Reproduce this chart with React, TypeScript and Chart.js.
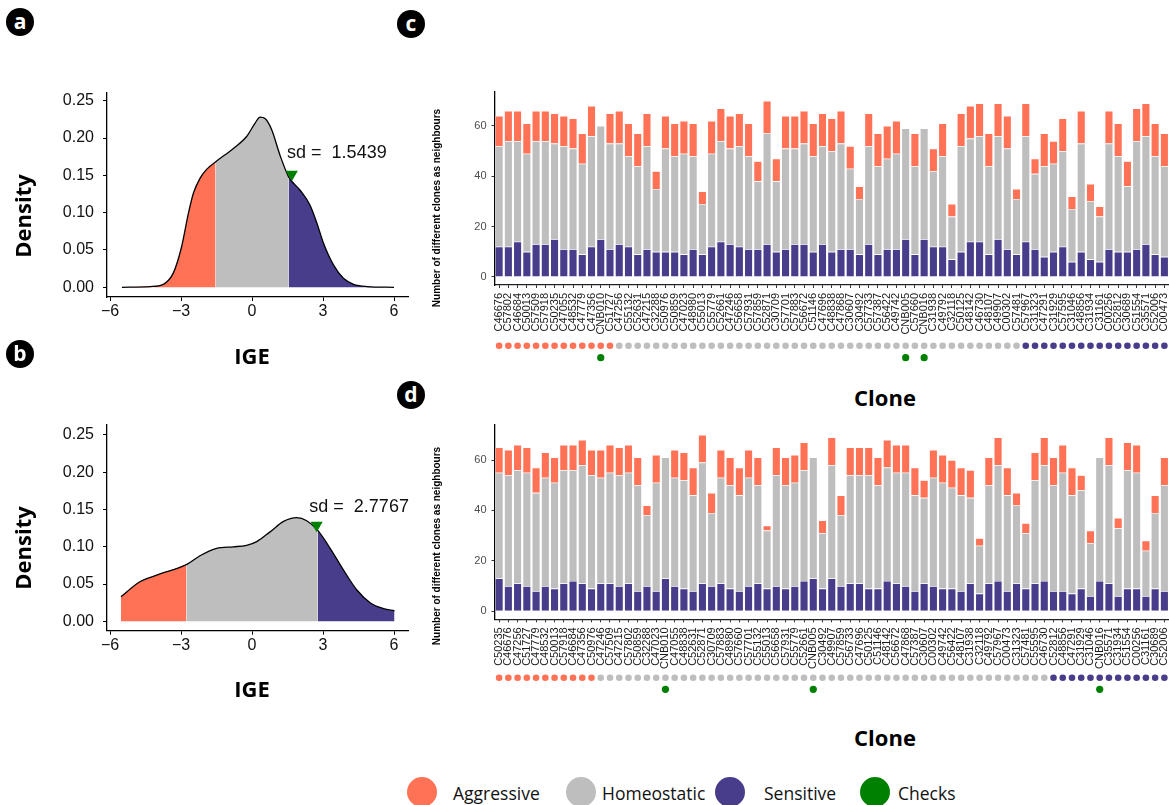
import React, { useEffect, useRef } from 'react';
import { Chart, registerables } from 'chart.js';
Chart.register(...registerables);

const AGG = '#FF7256';
const HOM = '#BEBEBE';
const SEN = '#483D8B';
const CHK = '#008000';

// ---------- Panel a : density of IGE ----------
const igeA = [-5.5, -4.3, -3.75, -3.33, -2.98, -2.69, -2.48, -2.2, -1.92, -1.5439, -0.79, -0.23, 0.13, 0.34, 0.55, 0.83, 1.18, 1.5439, 2.03, 2.45, 2.74, 3.02, 3.44, 3.86, 4.29, 4.85, 6.0];
const densA = [0, 0.001, 0.004, 0.019, 0.054, 0.099, 0.126, 0.146, 0.158, 0.168, 0.186, 0.202, 0.220, 0.228, 0.226, 0.211, 0.177, 0.148, 0.130, 0.110, 0.086, 0.059, 0.030, 0.012, 0.004, 0.001, 0];
const sdA = 1.5439;
const sdTextA = 'sd =  1.5439';
const markerA = { x: 1.68, y: 0.1515 };
const labelPosA = { x: 1.48, y: 0.180 };

// ---------- Panel b ----------
const igeB = [-5.54, -4.74, -4.03, -2.7767, -2.2, -1.5, -0.79, -0.23, 0.2, 0.76, 1.33, 1.89, 2.31, 2.7767, 3.3, 3.86, 4.43, 4.99, 5.56, 6.02];
const densB = [0.033, 0.053, 0.062, 0.076, 0.088, 0.098, 0.100, 0.102, 0.107, 0.120, 0.134, 0.139, 0.135, 0.122, 0.098, 0.069, 0.042, 0.025, 0.017, 0.014];
const sdB = 2.7767;
const sdTextB = 'sd =  2.7767';
const markerB = { x: 2.73, y: 0.129 };
const labelPosB = { x: 2.42, y: 0.154 };

const densityXTicks = [-6, -3, 0, 3, 6];
const densityXTickLabels = ['\u22126', '\u22123', '0', '3', '6'];
const densityYTicks = [0, 0.05, 0.1, 0.15, 0.2, 0.25];
const densityYTickLabels = ['0.00', '0.05', '0.10', '0.15', '0.20', '0.25'];

// ---------- Panel c ----------
const clonesC = ['C46676','C57802','C46684','C50013','C57509','C57918','C50235','C47055','C48532','C47779','C47356','CNB010','C51727','C47256','C55132','C52631','C47215','C32288','C50976','C50859','C47023','C48980','C55013','C55779','C52661','C47246','C56658','C57931','C57859','C52871','C30709','C57701','C57883','C56672','C51146','C47696','C48838','C47868','C30607','C30492','C57733','C57387','C56422','C49742','CNB005','C57660','CNB016','C31938','C49792','C32118','C50125','C48142','C46730','C48107','C49907','C00302','C57481','C57967','C31323','C47291','C31929','C57595','C31046','C48856','C31934','C31161','C00256','C52812','C30689','C51554','C35571','C52006','C00473'];
const groupsC = 'AAAAAAAAAAAAAHHHHHHHHHHHHHHHHHHHHHHHHHHHHHHHHHHHHHHHHHHHHSSSSSSSSSSSSSSS';
const sensitiveC = [12,12,14,10,13,13,15,11,11,9, 12,15,11,13,12,9,11,10,10,10, 9,11,9,12,14,13,12,11,11,13, 10,11,13,13,10,13,10,11,11,9, 13,9,11,11,15,9,15,12,12,7, 10,14,14,9,15,11,9,14,11,8, 10,12,6,10,7,6,11,10,10,11, 13,9,8];
const homeostaticC = [40,42,40,39,41,41,38,41,40,36, 44,45,42,40,36,35,41,25,41,38, 40,37,20,37,40,38,40,37,27,44, 28,40,38,40,38,39,40,42,32,22, 39,35,36,38,44,35,44,30,36,17, 42,41,42,35,41,40,22,42,30,36, 35,38,21,43,23,18,42,38,26,43, 43,39,36];
const aggressiveC = [12,12,12,12,12,12,12,12,12,12, 12,0,12,13,13,13,13,7,13,13, 13,13,5,13,13,13,13,13,8,13, 9,13,13,13,13,13,13,13,9,5, 13,13,13,13,0,13,0,9,13,5, 13,13,13,13,13,13,4,13,6,13, 9,13,5,13,7,4,13,13,10,13, 13,13,13];

// ---------- Panel d ----------
const clonesD = ['C50235','C46676','C47256','C51727','C47779','C48532','C50013','C57918','C46684','C47356','C50976','C47246','C57509','C47215','C57802','C50859','C32288','C47023','CNB010','C47055','C48838','C52631','C52871','C30709','C57883','C48980','C57660','C57701','C55132','C55013','C56658','C57931','C55779','C52661','CNB005','C30492','C49907','C57859','C56733','C47696','C50125','C51146','C48142','C56672','C47868','C57387','C30607','C00302','C49742','C56422','C48107','C31938','C32118','C49792','C57967','C00473','C31323','C57481','C55595','C46730','C52812','C48856','C47291','C31929','C31046','CNB016','C35571','C31934','C51554','C00256','C31161','C30689','C52006'];
const groupsD = 'AAAAAAAAAAAHHHHHHHHHHHHHHHHHHHHHHHHHHHHHHHHHHHHHHHHHHHHHHHHHSSSSSSSSSSSS';
const sensitiveD = [13,10,11,10,8,10,9,11,12,11, 9,11,11,10,11,8,10,8,13,10, 9,8,11,10,11,9,8,10,11,9, 10,9,10,12,13,9,13,10,11,11, 9,9,12,11,10,8,11,10,9,9, 8,11,7,11,12,8,11,9,11,12, 8,8,7,9,6,12,11,6,9,9, 6,9,8];
const homeostaticD = [42,44,45,45,39,43,42,45,44,47, 45,42,44,44,44,42,28,43,48,43, 43,38,48,29,42,41,38,43,39,23, 44,41,41,44,48,22,45,28,43,43, 45,41,45,44,45,38,34,43,42,40, 38,34,19,39,46,38,31,22,41,46, 42,47,39,39,21,49,47,27,47,46, 18,30,42];
const aggressiveD = [10,10,10,10,10,10,10,10,10,10, 10,11,11,11,11,11,4,11,0,11, 11,11,11,8,11,11,11,11,11,2, 11,11,11,11,0,5,11,8,11,11, 11,11,11,11,11,11,7,11,11,11, 11,11,3,11,11,11,5,4,11,11, 11,11,11,6,5,0,11,4,11,11, 4,7,11];

const checkClones = ['CNB010', 'CNB005', 'CNB016'];
const countYTicks = [0, 20, 40, 60];
const countYTickLabels = ['0', '20', '40', '60'];

const groupColor: Record<string, string> = { A: AGG, H: HOM, S: SEN };
const TICK_FONT = '"Liberation Sans", Arial, sans-serif';

function densityConfig(xs: number[], ys: number[], sd: number, marker: { x: number; y: number }, labelPos: { x: number; y: number }, sdText: string, yMin: number, yMax: number, padTop: number, xHeight: number) {
  const pts = xs.map((x, i) => ({ x, y: ys[i] }));
  const eps = 1e-9;
  const left = pts.filter(p => p.x <= -sd + eps);
  const mid = pts.filter(p => p.x >= -sd - eps && p.x <= sd + eps);
  const right = pts.filter(p => p.x >= sd - eps);
  const area = (data: any[], color: string) => ({
    data, fill: 'origin', backgroundColor: color, borderColor: 'rgba(0,0,0,0)', borderWidth: 0,
    pointRadius: 0, cubicInterpolationMode: 'monotone', order: 2,
  });
  const labelPlugin = {
    id: 'sdLabel',
    afterDatasetsDraw(chart: any) {
      const { ctx, scales } = chart;
      ctx.save();
      ctx.font = '18px ' + TICK_FONT;
      ctx.fillStyle = '#111';
      ctx.textAlign = 'left';
      ctx.textBaseline = 'middle';
      ctx.fillText(sdText, scales.x.getPixelForValue(labelPos.x), scales.y.getPixelForValue(labelPos.y));
      ctx.restore();
    },
  };
  return {
    type: 'line',
    data: {
      datasets: [
        { data: [marker], showLine: false, pointStyle: 'triangle', rotation: 180, pointRadius: 7, pointBackgroundColor: CHK, pointBorderWidth: 0, pointBorderColor: CHK, order: 0 },
        { data: pts, fill: false, borderColor: '#000', borderWidth: 1.3, pointRadius: 0, cubicInterpolationMode: 'monotone', order: 1 },
        area(left, AGG),
        area(mid, HOM),
        area(right, SEN),
      ],
    },
    options: {
      animation: false,
      responsive: false,
      events: [],
      layout: { padding: { top: padTop, right: 12, left: 0, bottom: 0 } },
      plugins: { legend: { display: false }, tooltip: { enabled: false } },
      scales: {
        x: {
          type: 'linear', min: -6.13, max: 6.59,
          afterBuildTicks: (axis: any) => { axis.ticks = densityXTicks.map(v => ({ value: v })); },
          afterFit: (s: any) => { s.height = xHeight; s.paddingLeft = 0; s.paddingRight = 0; },
          grid: { drawOnChartArea: false, drawTicks: true, tickLength: 4, color: '#000', lineWidth: 1 },
          border: { display: true, color: '#000', width: 1.3 },
          ticks: {
            color: '#111', padding: 1, font: { family: TICK_FONT, size: 16 },
            maxRotation: 0,
            callback: (v: number) => densityXTickLabels[densityXTicks.indexOf(v)],
          },
        },
        y: {
          type: 'linear', min: yMin, max: yMax,
          afterBuildTicks: (axis: any) => { axis.ticks = densityYTicks.map(v => ({ value: v })); },
          afterFit: (s: any) => { s.width = 107; s.paddingTop = 0; s.paddingBottom = 0; },
          grid: { drawOnChartArea: false, drawTicks: true, tickLength: 4, color: '#000', lineWidth: 1 },
          border: { display: true, color: '#000', width: 1.3 },
          ticks: {
            color: '#111', padding: 9, font: { family: TICK_FONT, size: 16 },
            callback: (v: number) => densityYTickLabels[densityYTicks.indexOf(v)],
          },
        },
      },
    },
    plugins: [labelPlugin],
  };
}

function barConfig(clones: string[], groups: string, sens: number[], hom: number[], agg: number[], yMax: number, padTop: number, xHeight: number, rowOffset: number, checkOffset: number) {
  const dotPlugin = {
    id: 'groupDots',
    afterDraw(chart: any) {
      const xs = chart.scales.x;
      const ctx = chart.ctx;
      ctx.save();
      clones.forEach((c, i) => {
        const px = xs.getPixelForValue(i);
        ctx.fillStyle = groupColor[groups[i]];
        ctx.beginPath();
        ctx.arc(px, xs.top + rowOffset, 3.3, 0, Math.PI * 2);
        ctx.fill();
        if (checkClones.includes(c)) {
          ctx.fillStyle = CHK;
          ctx.beginPath();
          ctx.arc(px, xs.top + checkOffset, 3.6, 0, Math.PI * 2);
          ctx.fill();
        }
      });
      ctx.restore();
    },
  };
  const ds = (label: string, data: number[], color: string) => ({
    label, data, backgroundColor: color, borderColor: 'rgba(255,255,255,0.75)', borderWidth: 0.6,
    barPercentage: 0.9, categoryPercentage: 1.0,
  });
  return {
    type: 'bar',
    data: {
      labels: clones,
      datasets: [ds('Sensitive', sens, SEN), ds('Homeostatic', hom, HOM), ds('Aggressive', agg, AGG)],
    },
    options: {
      animation: false,
      responsive: false,
      events: [],
      layout: { padding: { top: padTop, right: 0, left: 0, bottom: 0 } },
      plugins: { legend: { display: false }, tooltip: { enabled: false } },
      scales: {
        x: {
          stacked: true,
          afterFit: (s: any) => { s.height = xHeight; s.paddingLeft = 0; s.paddingRight = 0; },
          grid: { offset: false, drawOnChartArea: false, drawTicks: true, tickLength: 3, color: '#333', lineWidth: 1 },
          border: { display: true, color: '#222', width: 1.2 },
          ticks: {
            autoSkip: false, maxRotation: 90, minRotation: 90, padding: 5,
            color: '#1a1a1a', font: { family: TICK_FONT, size: 11 },
          },
        },
        y: {
          stacked: true, min: -3.2, max: yMax,
          afterBuildTicks: (axis: any) => { axis.ticks = countYTicks.map(v => ({ value: v })); },
          afterFit: (s: any) => { s.width = 64.5; s.paddingTop = 0; s.paddingBottom = 0; },
          grid: { drawOnChartArea: false, drawTicks: true, tickLength: 3, color: '#333', lineWidth: 1 },
          border: { display: true, color: '#000', width: 1.3 },
          ticks: {
            color: '#4d4d4d', padding: 5, font: { family: TICK_FONT, size: 11 },
            callback: (v: number) => countYTickLabels[countYTicks.indexOf(v)],
          },
        },
      },
    },
    plugins: [dotPlugin],
  };
}

function ChartCanvas({ make, left, top, width, height }: { make: () => any; left: number; top: number; width: number; height: number }) {
  const ref = useRef<HTMLCanvasElement>(null);
  useEffect(() => {
    const chart = new Chart(ref.current as HTMLCanvasElement, make());
    return () => chart.destroy();
  }, []);
  return <canvas ref={ref} width={width} height={height} style={{ position: 'absolute', left, top, width, height }} />;
}

const TITLE_FONT = '"Open Sans", "DejaVu Sans", sans-serif';

function PanelLetter({ letter, cx, cy }: { letter: string; cx: number; cy: number }) {
  return (
    <div style={{
      position: 'absolute', left: cx - 14, top: cy - 14, width: 28, height: 28, borderRadius: '50%',
      background: '#000', color: '#fff', display: 'flex', alignItems: 'center', justifyContent: 'center',
      fontFamily: TITLE_FONT, fontWeight: 700, fontSize: 21, lineHeight: '28px',
    }}>
      <span style={{ marginTop: -3 }}>{letter}</span>
    </div>
  );
}

function Text({ children, cx, cy, size, bold, rotate, family }: { children: any; cx: number; cy: number; size: number; bold?: boolean; rotate?: boolean; family?: string }) {
  return (
    <div style={{
      position: 'absolute', left: cx, top: cy, whiteSpace: 'nowrap', lineHeight: 1,
      transform: 'translate(-50%, -50%)' + (rotate ? ' rotate(-90deg)' : ''),
      fontFamily: family || TITLE_FONT, fontWeight: bold ? 700 : 400, fontSize: size, color: '#000',
    }}>{children}</div>
  );
}

const legendItems = [
  { label: 'Aggressive', color: AGG, cx: 422, tx: 453 },
  { label: 'Homeostatic', color: HOM, cx: 581, tx: 602 },
  { label: 'Sensitive', color: SEN, cx: 730, tx: 764 },
  { label: 'Checks', color: CHK, cx: 875, tx: 898 },
];

export default function App() {
  useEffect(() => {
    document.body.style.margin = '0';
    document.body.style.overflow = 'hidden';
  }, []);
  return (
    <div style={{ position: 'absolute', left: 0, top: 0, width: 1169, height: 805, background: '#fff', overflow: 'hidden' }}>
      <ChartCanvas left={0} top={80} width={420} height={280}
        make={() => densityConfig(igeA, densA, sdA, markerA, labelPosA, sdTextA, -0.013, 0.2603, 13, 63)} />
      <ChartCanvas left={0} top={410} width={420} height={280}
        make={() => densityConfig(igeB, densB, sdB, markerB, labelPosB, sdTextB, -0.0126, 0.2634, 15, 59.3)} />
      <ChartCanvas left={430} top={80} width={739} height={290}
        make={() => barConfig(clonesC, groupsC, sensitiveC, homeostaticC, aggressiveC, 73.5, 12, 85, 60.7, 72.7)} />
      <ChartCanvas left={430} top={415} width={739} height={290}
        make={() => barConfig(clonesD, groupsD, sensitiveD, homeostaticD, aggressiveD, 73.9, 10, 85.7, 58.4, 70)} />

      <PanelLetter letter="a" cx={20} cy={22} />
      <PanelLetter letter="b" cx={20} cy={354} />
      <PanelLetter letter="c" cx={411} cy={24} />
      <PanelLetter letter="d" cx={411} cy={395} />

      <Text cx={22} cy={216} size={22} bold rotate>Density</Text>
      <Text cx={252} cy={355} size={22} bold>IGE</Text>
      <Text cx={22} cy={548} size={22} bold rotate>Density</Text>
      <Text cx={252} cy={688} size={22} bold>IGE</Text>

      <Text cx={437} cy={208} size={10} bold rotate family={TICK_FONT}>Number of different clones as neighbours</Text>
      <Text cx={437} cy={546} size={10} bold rotate family={TICK_FONT}>Number of different clones as neighbours</Text>
      <Text cx={885} cy={397} size={22} bold>Clone</Text>
      <Text cx={885} cy={737} size={22} bold>Clone</Text>

      {legendItems.map(it => (
        <React.Fragment key={it.label}>
          <div style={{ position: 'absolute', left: it.cx - 15, top: 777, width: 30, height: 30, borderRadius: '50%', background: it.color }} />
          <div style={{ position: 'absolute', left: it.tx, top: 794, transform: 'translateY(-50%)', fontFamily: TITLE_FONT, fontSize: 17.5, lineHeight: 1, whiteSpace: 'nowrap', color: '#111' }}>{it.label}</div>
        </React.Fragment>
      ))}
    </div>
  );
}
